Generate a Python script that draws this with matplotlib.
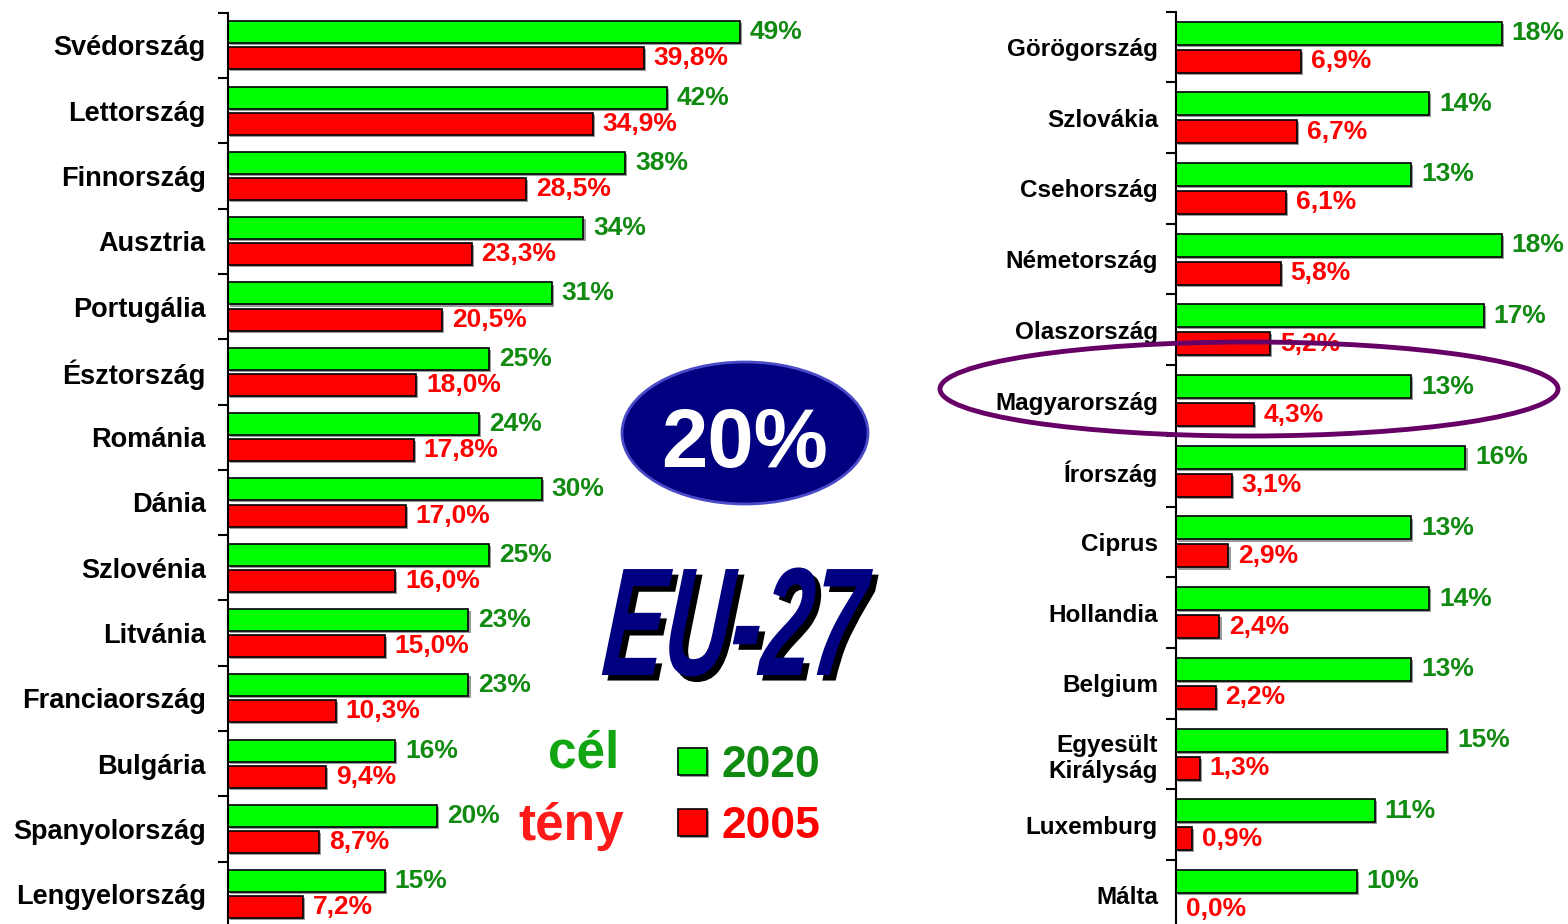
import math
import matplotlib
matplotlib.use('Agg')
import matplotlib.pyplot as plt
from matplotlib.patches import Ellipse
from matplotlib.transforms import Affine2D
from matplotlib.colors import to_rgba
import matplotlib.patheffects as pe
import numpy as np

# ---------------- data ----------------
left_countries = ['Svédország', 'Lettország', 'Finnország', 'Ausztria', 'Portugália',
                  'Észtország', 'Románia', 'Dánia', 'Szlovénia', 'Litvánia',
                  'Franciaország', 'Bulgária', 'Spanyolország', 'Lengyelország']
left_target = [49, 42, 38, 34, 31, 25, 24, 30, 25, 23, 23, 16, 20, 15]
left_actual = [39.8, 34.9, 28.5, 23.3, 20.5, 18.0, 17.8, 17.0, 16.0, 15.0, 10.3, 9.4, 8.7, 7.2]

right_countries = ['Görögország', 'Szlovákia', 'Csehország', 'Németország', 'Olaszország',
                   'Magyarország', 'Írország', 'Ciprus', 'Hollandia', 'Belgium',
                   'Egyesült\nKirályság', 'Luxemburg', 'Málta']
right_target = [18, 14, 13, 18, 17, 13, 16, 13, 14, 13, 15, 11, 10]
right_actual = [6.9, 6.7, 6.1, 5.8, 5.2, 4.3, 3.1, 2.9, 2.4, 2.2, 1.3, 0.9, 0.0]

legend_labels = ['2020', '2005']
side_labels = ['cél', 'tény']
headline = '20%'
region = 'EU-27'

# ---------------- style ----------------
plt.rcParams['font.family'] = ['Liberation Sans', 'DejaVu Sans']
plt.rcParams['font.weight'] = 'bold'

W, H = 1568, 924
fig = plt.figure(figsize=(W / 100, H / 100), dpi=100)

GREEN = '#00FF00'
RED = '#FF0000'
TXT_GREEN = '#118A11'
TXT_RED = '#FF0000'


def fmt_target(v):
    return f'{v:.0f}%'


def fmt_actual(v):
    return f'{v:.1f}%'.replace('.', ',')


class Stretch(pe.AbstractPathEffect):
    """Vertically stretch (and slant) text glyphs about a pixel anchor; the text stays a Text artist."""

    def __init__(self, sy, cx, cy, shear=0.0, offset=(0, 0), face=None):
        super().__init__(offset)
        self.sy = sy
        self.cx = cx
        self.cy = cy
        self.shear = shear
        self.face = to_rgba(face) if face is not None else None

    def draw_path(self, renderer, gc, tpath, affine, rgbFace=None):
        t = (affine + Affine2D().translate(-self.cx, -self.cy).scale(1, self.sy)
             .skew(math.atan(self.shear), 0).translate(self.cx, self.cy)
             + self._offset_transform(renderer))
        renderer.draw_path(gc, tpath, t, self.face if self.face is not None else rgbFace)


def panel(rect, countries, target, actual, xmax, bar_h, off, label_size, label_pad, val_size):
    ax = fig.add_axes(rect)
    n = len(countries)
    y = np.arange(n)
    shadow = [pe.SimplePatchShadow(offset=(1.5, -1.5), shadow_rgbFace='#9a9a9a', alpha=1), pe.Normal()]
    g = ax.barh(y - off, target, height=bar_h, color=GREEN, edgecolor='black', linewidth=1.2)
    r = ax.barh(y + off, actual, height=bar_h, color=RED, edgecolor='black', linewidth=1.2)
    for b in list(g) + list(r):
        b.set_path_effects(shadow)
    ax.bar_label(g, labels=[fmt_target(v) for v in target], padding=7,
                 color=TXT_GREEN, fontsize=val_size, fontweight='bold')
    ax.bar_label(r, labels=[fmt_actual(v) for v in actual], padding=7,
                 color=TXT_RED, fontsize=val_size, fontweight='bold')
    ax.set_xlim(0, xmax)
    ax.set_ylim(n - 0.5, -0.5)
    ax.set_yticks(y, countries, fontsize=label_size, fontweight='bold')
    ax.set_yticks(np.arange(n + 1) - 0.5, minor=True)
    ax.tick_params(axis='y', which='major', length=0, pad=label_pad)
    ax.tick_params(axis='y', which='minor', length=7, width=1.5, direction='out')
    ax.set_xticks([])
    for s in ['top', 'right', 'bottom']:
        ax.spines[s].set_visible(False)
    ax.spines['left'].set_linewidth(1.5)
    ax.patch.set_alpha(0)
    return ax, g, r


axL, gL, rL = panel([228 / W, 1 - 926.9 / H, 575 / W, 914.2 / H],
                    left_countries, left_target, left_actual, 55,
                    0.337, 0.2, 19.5, 16, 19)
axR, gR, rR = panel([1176 / W, 1 - 930.8 / H, 389 / W, 919.1 / H],
                    right_countries, right_target, right_actual, 21.5,
                    0.325, 0.198, 17.5, 13, 19)

# legend
leg = fig.legend(handles=[gL, rL], labels=legend_labels, loc='upper left',
                 bbox_to_anchor=(678 / W, 1 - 745 / H), frameon=False,
                 prop={'size': 32, 'weight': 'bold'}, handlelength=0.65, handleheight=0.56,
                 handletextpad=0.33, labelspacing=0.45, borderpad=0, borderaxespad=0)
for t, c in zip(leg.get_texts(), [TXT_GREEN, TXT_RED]):
    t.set_color(c)

# overlay annotations
ov = fig.add_axes([0, 0, 1, 1])
ov.set_xlim(0, W)
ov.set_ylim(H, 0)
ov.axis('off')

ov.add_patch(Ellipse((745, 433), 246, 142, facecolor='#000080', edgecolor='#4a4ac8', linewidth=2))
ov.text(745, 467, headline, color='white', fontsize=60, ha='center', va='baseline', fontweight='bold')

eu_x, eu_base = 730, 675
sy = 1.68
cx, cy = eu_x, H - eu_base
ov.text(eu_x, eu_base, region, color='#000080', fontsize=66, ha='center', va='baseline',
        fontstyle='italic', fontweight='bold',
        path_effects=[Stretch(sy, cx, cy, shear=0.09, offset=(4, -4), face='black'),
                      Stretch(sy, cx, cy, shear=0.09)])

ov.text(584, 768, side_labels[0], color='#11A611', fontsize=37, ha='center', va='baseline')
ov.text(571, 840, side_labels[1], color='#FF1A1A', fontsize=37, ha='center', va='baseline')

ov.add_patch(Ellipse((1249, 389), 618, 94, fill=False, edgecolor='#660066', linewidth=3.5))

fig.savefig('out.png', dpi=100)
